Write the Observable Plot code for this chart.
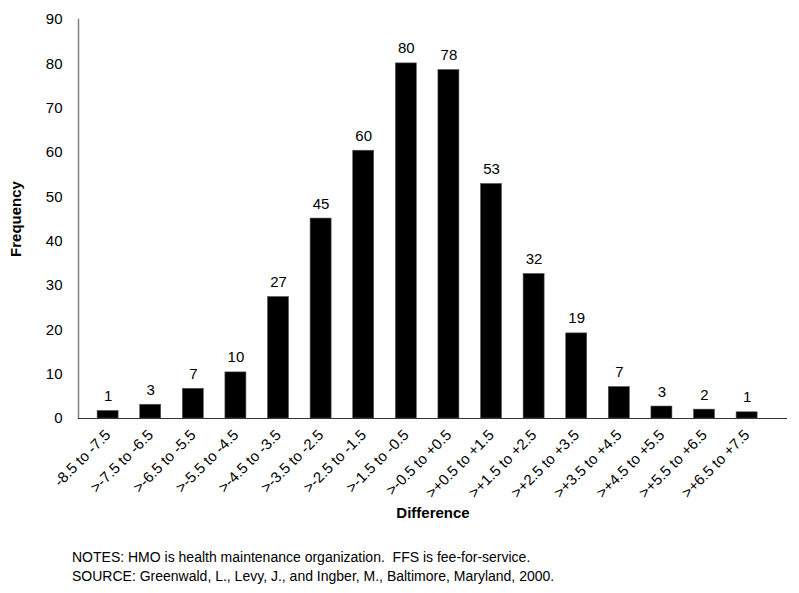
<!DOCTYPE html>
<html>
<head>
<meta charset="utf-8">
<script src="https://cdn.jsdelivr.net/npm/d3@7"></script>
<script src="https://cdn.jsdelivr.net/npm/@observablehq/plot@0.6"></script>
<style>
  body { margin: 0; background: #fff; font-family: "Liberation Sans", Arial, sans-serif; }
  #chart svg { display: block; }
  #notes { margin: 18px 0 0 72px; font-size: 14px; line-height: 19px; color: #000; }
</style>
</head>
<body>
<div id="chart"></div>
<div id="notes">
  <div>NOTES: HMO is health maintenance organization.&nbsp; FFS is fee-for-service.</div>
  <div>SOURCE: Greenwald, L., Levy, J., and Ingber, M., Baltimore, Maryland, 2000.</div>
</div>
<script>
const categories = ["-8.5 to -7.5", ">-7.5 to -6.5", ">-6.5 to -5.5", ">-5.5 to -4.5", ">-4.5 to -3.5",
  ">-3.5 to -2.5", ">-2.5 to -1.5", ">-1.5 to -0.5", ">-0.5 to +0.5", ">+0.5 to +1.5", ">+1.5 to +2.5",
  ">+2.5 to +3.5", ">+3.5 to +4.5", ">+4.5 to +5.5", ">+5.5 to +6.5", ">+6.5 to +7.5"];
const barHeights = [1.7, 3.1, 6.7, 10.4, 27.4, 45.1, 60.4, 80.1, 78.6, 52.9, 32.6, 19.2, 7.1, 2.7, 2.0, 1.4];
const labels = [1, 3, 7, 10, 27, 45, 60, 80, 78, 53, 32, 19, 7, 3, 2, 1];
const yTicks = [0, 10, 20, 30, 40, 50, 60, 70, 80, 90];

const data = categories.map((c, i) => ({category: c, value: barHeights[i], label: labels[i]}));

const chart = Plot.plot({
  width: 799,
  height: 530,
  marginLeft: 78,
  marginRight: 12,
  marginTop: 19,
  marginBottom: 112,
  style: {fontFamily: "Liberation Sans, Arial, sans-serif", fontSize: "15px", color: "#000", background: "#fff"},
  x: {domain: categories, paddingInner: 0.507, paddingOuter: 0.575, align: 0.39, round: false},
  y: {domain: [0, 90]},
  marks: [
    Plot.barY(data, {x: "category", y: "value", fill: "#000", stroke: "#555", strokeWidth: 0.6}),
    Plot.text(data, {x: "category", y: "value", text: d => String(d.label), dy: -10, lineAnchor: "bottom", fontSize: 15, fill: "#000"}),
    Plot.axisY({ticks: yTicks, tickSize: 0, tickPadding: 16, fontSize: 15, label: "Frequency", labelArrow: "none", labelAnchor: "center", labelOffset: 68}),
    Plot.axisX({tickSize: 0, tickRotate: -45, tickPadding: 14, fontSize: 15, label: "Difference", labelArrow: "none", labelAnchor: "center", labelOffset: 99}),
    Plot.frame({anchor: "left", stroke: "#808080", strokeWidth: 1.5}),
    Plot.ruleY([0], {stroke: "#333", strokeWidth: 1.2})
  ]
});
document.getElementById("chart").appendChild(chart);
chart.querySelectorAll("g[aria-label='y-axis label'] text, g[aria-label='x-axis label'] text").forEach(t => {
  t.textContent = t.textContent.replace(/[↑→←↓]/g, "").trim();
  t.setAttribute("font-weight", "bold");
  t.setAttribute("font-size", "15");
});
</script>
</body>
</html>
